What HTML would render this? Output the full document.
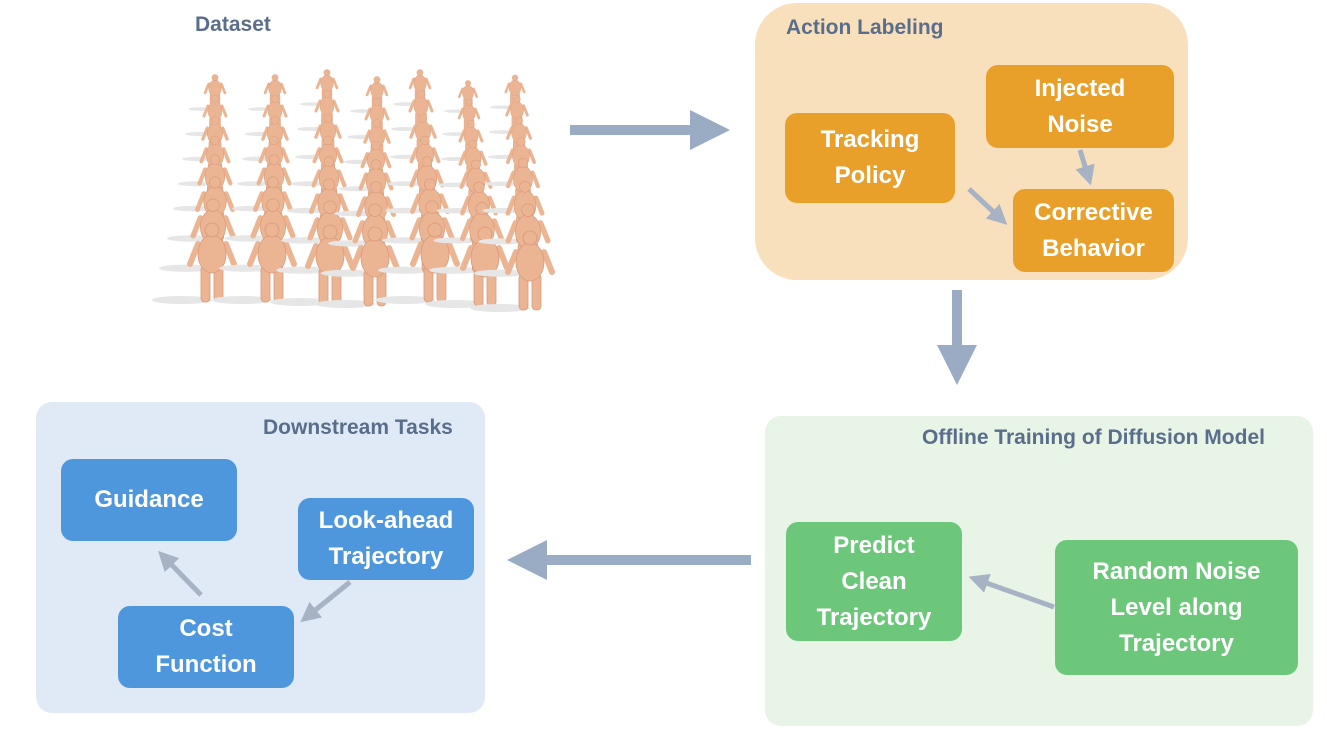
<!DOCTYPE html>
<html><head><meta charset="utf-8"><style>
body{margin:0;width:1327px;height:737px;background:#fff;position:relative;overflow:hidden;font-family:"Liberation Sans",sans-serif;}
.p{position:absolute;}
.box{position:absolute;display:flex;align-items:center;justify-content:center;text-align:center;color:#fff;font-weight:bold;font-size:24px;line-height:36px;border-radius:12px;}
.o{background:#e8a02a;}
.b{background:#4f97dc;}
.g{background:#6cc77a;}
.lbl{position:absolute;color:#5a6e8c;font-weight:bold;font-size:21px;}
</style></head><body>
<div class="p" style="left:755px;top:3px;width:433px;height:277px;background:#f8e0bd;border-radius:42px;"></div>
<div class="p" style="left:36px;top:402px;width:449px;height:311px;background:#dfeaf6;border-radius:16px;"></div>
<div class="p" style="left:765px;top:416px;width:548px;height:310px;background:#e8f4e6;border-radius:16px;"></div>

<div class="lbl" style="left:195px;top:13px;">Dataset</div>
<div class="lbl" style="left:786px;top:16px;">Action Labeling</div>
<div class="lbl" style="left:263px;top:416px;">Downstream Tasks</div>
<div class="lbl" style="left:922px;top:426px;">Offline Training of Diffusion Model</div>

<svg class="p" style="left:0;top:0" width="1327" height="737">
<defs>
<marker id="a" markerWidth="4" markerHeight="4" refX="2" refY="2" orient="auto" markerUnits="strokeWidth"><path d="M0,0 L4,2 L0,4Z" fill="#9aabc4"/></marker>
<marker id="s" markerWidth="4" markerHeight="4" refX="2" refY="2" orient="auto" markerUnits="strokeWidth"><path d="M0,0 L4,2 L0,4Z" fill="#a7b3c4"/></marker>
<g id="m">
<ellipse cx="-30" cy="-2" rx="30" ry="4" fill="#e6e6e6"/>
<g fill="#ebb593" stroke="#d9987a" stroke-width="0.8">
<rect x="-11" y="-36" width="9" height="36" rx="4"/>
<rect x="2" y="-36" width="9" height="36" rx="4"/>
<path d="M-14,-58 L-22,-38 M14,-58 L22,-38" stroke="#ebb593" stroke-width="6" stroke-linecap="round"/>
<ellipse cx="0" cy="-48" rx="14" ry="19"/>
<circle cx="0" cy="-72" r="7"/>
</g>
</g>
</defs>
<g>
<use href="#m" transform="translate(215,110) scale(.45)"/><use href="#m" transform="translate(215,135) scale(.5)"/><use href="#m" transform="translate(215,160) scale(.55)"/><use href="#m" transform="translate(215,185) scale(.62)"/><use href="#m" transform="translate(215,210) scale(.7)"/><use href="#m" transform="translate(215,240) scale(.8)"/><use href="#m" transform="translate(213,270) scale(.9)"/><use href="#m" transform="translate(212,302) scale(1)"/>
<use href="#m" transform="translate(275,110) scale(.45)"/><use href="#m" transform="translate(275,135) scale(.5)"/><use href="#m" transform="translate(275,160) scale(.55)"/><use href="#m" transform="translate(274,185) scale(.62)"/><use href="#m" transform="translate(274,210) scale(.7)"/><use href="#m" transform="translate(273,240) scale(.8)"/><use href="#m" transform="translate(273,270) scale(.9)"/><use href="#m" transform="translate(272,302) scale(1)"/>
<use href="#m" transform="translate(327,105) scale(.45)"/><use href="#m" transform="translate(327,130) scale(.5)"/><use href="#m" transform="translate(328,158) scale(.55)"/><use href="#m" transform="translate(328,185) scale(.62)"/><use href="#m" transform="translate(329,212) scale(.7)"/><use href="#m" transform="translate(329,242) scale(.8)"/><use href="#m" transform="translate(330,272) scale(.9)"/><use href="#m" transform="translate(330,304) scale(1)"/>
<use href="#m" transform="translate(377,112) scale(.45)"/><use href="#m" transform="translate(377,138) scale(.5)"/><use href="#m" transform="translate(377,163) scale(.55)"/><use href="#m" transform="translate(376,190) scale(.62)"/><use href="#m" transform="translate(376,215) scale(.7)"/><use href="#m" transform="translate(376,245) scale(.8)"/><use href="#m" transform="translate(375,275) scale(.9)"/><use href="#m" transform="translate(375,306) scale(1)"/>
<use href="#m" transform="translate(420,105) scale(.45)"/><use href="#m" transform="translate(421,130) scale(.5)"/><use href="#m" transform="translate(423,158) scale(.55)"/><use href="#m" transform="translate(425,185) scale(.62)"/><use href="#m" transform="translate(427,212) scale(.7)"/><use href="#m" transform="translate(430,242) scale(.8)"/><use href="#m" transform="translate(432,272) scale(.9)"/><use href="#m" transform="translate(435,302) scale(1)"/>
<use href="#m" transform="translate(468,112) scale(.4)"/><use href="#m" transform="translate(469,135) scale(.45)"/><use href="#m" transform="translate(471,160) scale(.5)"/><use href="#m" transform="translate(473,186) scale(.58)"/><use href="#m" transform="translate(476,212) scale(.66)"/><use href="#m" transform="translate(479,242) scale(.76)"/><use href="#m" transform="translate(482,272) scale(.88)"/><use href="#m" transform="translate(485,306) scale(1)"/>
<use href="#m" transform="translate(515,108) scale(.42)"/><use href="#m" transform="translate(517,133) scale(.47)"/><use href="#m" transform="translate(519,158) scale(.52)"/><use href="#m" transform="translate(521,185) scale(.6)"/><use href="#m" transform="translate(523,212) scale(.68)"/><use href="#m" transform="translate(525,243) scale(.78)"/><use href="#m" transform="translate(528,275) scale(.9)"/><use href="#m" transform="translate(530,310) scale(1)"/>
</g>
<line x1="570" y1="130" x2="710" y2="130" stroke="#9aabc4" stroke-width="10" marker-end="url(#a)"/>
<line x1="957" y1="290" x2="957" y2="365" stroke="#9aabc4" stroke-width="10" marker-end="url(#a)"/>
<line x1="751" y1="560" x2="527" y2="560" stroke="#9aabc4" stroke-width="10" marker-end="url(#a)"/>
<line x1="969" y1="189" x2="1000" y2="218" stroke="#a7b3c4" stroke-width="5" marker-end="url(#s)"/>
<line x1="1080" y1="150" x2="1088" y2="176" stroke="#a7b3c4" stroke-width="5" marker-end="url(#s)"/>
<line x1="1054" y1="607" x2="978" y2="580" stroke="#a7b3c4" stroke-width="5" marker-end="url(#s)"/>
<line x1="201" y1="595" x2="165" y2="558" stroke="#a7b3c4" stroke-width="5" marker-end="url(#s)"/>
<line x1="350" y1="582" x2="308" y2="616" stroke="#a7b3c4" stroke-width="5" marker-end="url(#s)"/>
</svg>

<div class="box o" style="left:785px;top:113px;width:170px;height:90px;">Tracking<br>Policy</div>
<div class="box o" style="left:986px;top:65px;width:188px;height:83px;">Injected<br>Noise</div>
<div class="box o" style="left:1013px;top:189px;width:161px;height:83px;">Corrective<br>Behavior</div>
<div class="box g" style="left:786px;top:522px;width:176px;height:119px;">Predict<br>Clean<br>Trajectory</div>
<div class="box g" style="left:1055px;top:540px;width:243px;height:135px;">Random Noise<br>Level along<br>Trajectory</div>
<div class="box b" style="left:61px;top:459px;width:176px;height:82px;">Guidance</div>
<div class="box b" style="left:298px;top:498px;width:176px;height:82px;">Look-ahead<br>Trajectory</div>
<div class="box b" style="left:118px;top:606px;width:176px;height:82px;">Cost<br>Function</div>
</body></html>
